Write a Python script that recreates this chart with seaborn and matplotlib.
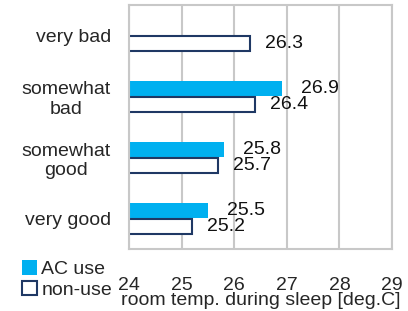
import matplotlib
matplotlib.use("Agg")
import matplotlib.pyplot as plt
import seaborn as sns
import pandas as pd
import numpy as np
from matplotlib.patches import Patch

categories = ["very bad", "somewhat\nbad", "somewhat\ngood", "very good"]
ac_use = [np.nan, 26.9, 25.8, 25.5]
non_use = [26.3, 26.4, 25.7, 25.2]
series = ["AC use", "non-use"]
xticks = [24, 25, 26, 27, 28, 29]

sns.set_theme(style="white")
plt.rcParams["font.family"] = ["Liberation Sans", "DejaVu Sans"]

df = pd.DataFrame({
    "category": categories * 2,
    "value": ac_use + non_use,
    "series": [series[0]] * 4 + [series[1]] * 4,
})

fig = plt.figure(figsize=(4.08, 3.11), dpi=100)
ax = fig.add_axes([129 / 408, 1 - 249 / 311, (392 - 129) / 408, (249 - 5) / 311])

ac_color = "#00B0F0"
nu_edge = "#1F3864"

sns.barplot(data=df, y="category", x="value", hue="series", hue_order=series,
            order=categories, orient="h", width=0.54, gap=0.06, saturation=1,
            palette=[ac_color, "white"], legend=False, ax=ax, errorbar=None)

# style bars and label them
for cont, s in zip(ax.containers, series):
    off = 14 if s == "AC use" else 10.5
    for p in cont:
        if p is None:
            continue
        if s == "non-use":
            p.set_edgecolor(nu_edge)
            p.set_linewidth(1.5)
            p.set_facecolor("white")
        else:
            p.set_edgecolor("none")
            p.set_facecolor(ac_color)
        w = p.get_width()
        if np.isnan(w) or w == 0:
            continue
        yc = p.get_y() + p.get_height() / 2
        ax.annotate(f"{w:.1f}", xy=(w, yc), xytext=(off, 0), textcoords="offset points",
                    ha="left", va="center", fontsize=14, color="#111111")

ax.set_xlim(24, 29)
ax.set_ylim(3.5, -0.5)
ax.set_xticks(xticks)
ax.set_xticklabels([str(t) for t in xticks], fontsize=14)
ax.tick_params(axis="x", length=0, pad=20)
ax.tick_params(axis="y", length=0, pad=13, labelsize=14)
for lab in ax.get_yticklabels():
    lab.set_multialignment("center")
ax.set_yticks([0.5, 1.5, 2.5], minor=True)
ax.tick_params(axis="y", which="minor", direction="in", length=7, color="#BFBFBF", width=1.5)
ax.set_ylabel("")
ax.set_xlabel("room temp. during sleep [deg.C]", fontsize=14, labelpad=-1)

ax.grid(axis="x", color="#C8C8C8", linewidth=1.5)
ax.set_axisbelow(True)
for sp in ax.spines.values():
    sp.set_color("#C8C8C8")
    sp.set_linewidth(1.5)

handles = [Patch(facecolor=ac_color, edgecolor="none"),
           Patch(facecolor="white", edgecolor=nu_edge, linewidth=1.5)]
fig.legend(handles, series, loc="lower left", bbox_to_anchor=(22 / 408, 12 / 311),
           frameon=False, fontsize=14, handlelength=0.75, handleheight=0.75,
           handletextpad=0.25, labelspacing=0.15, borderaxespad=0, borderpad=0)

fig.savefig("out.png", dpi=100)
